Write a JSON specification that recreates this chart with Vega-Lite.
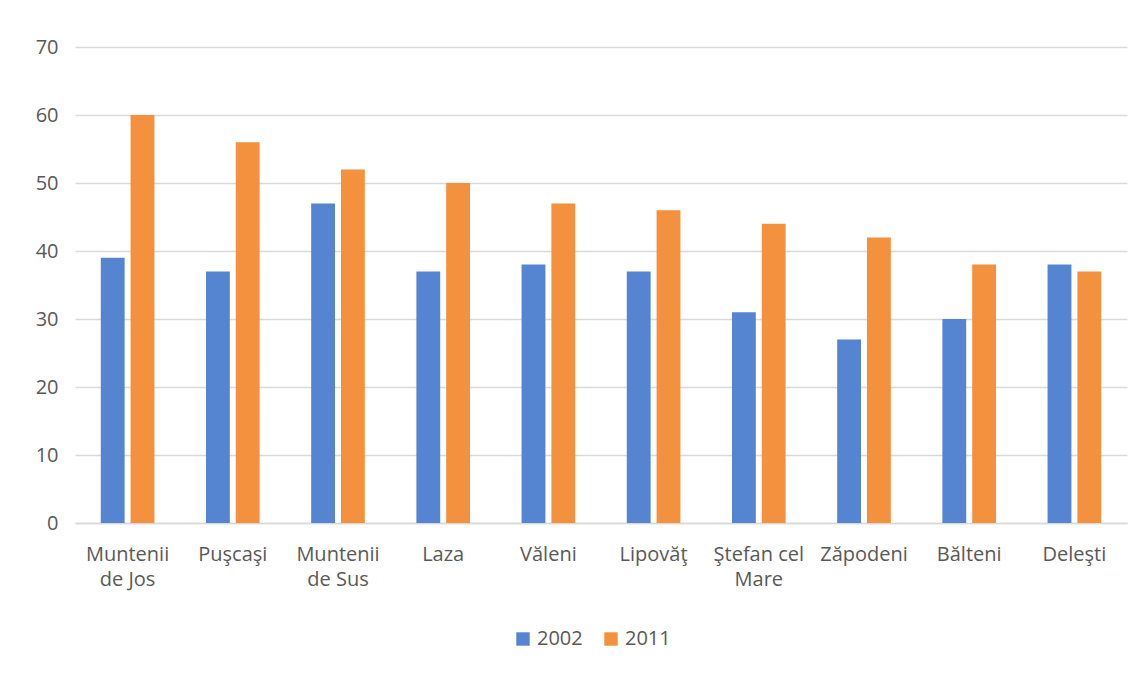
{
  "$schema": "https://vega.github.io/schema/vega-lite/v6.json",
  "width": 1052,
  "height": 476,
  "autosize": {"type": "none"},
  "padding": {"left": 75, "top": 47, "right": 19, "bottom": 153},
  "background": "white",
  "config": {
    "font": "Open Sans",
    "view": {"stroke": null},
    "axis": {"labelColor": "#595959", "labelFont": "Open Sans", "labelFontSize": 20, "titleColor": "#595959"},
    "legend": {"labelColor": "#595959", "labelFont": "Open Sans", "labelFontSize": 20}
  },
  "data": {
    "values": [
      {"sat": "Muntenii|de Jos", "an": "2002", "v": 39},
      {"sat": "Muntenii|de Jos", "an": "2011", "v": 60},
      {"sat": "Puşcaşi", "an": "2002", "v": 37},
      {"sat": "Puşcaşi", "an": "2011", "v": 56},
      {"sat": "Muntenii|de Sus", "an": "2002", "v": 47},
      {"sat": "Muntenii|de Sus", "an": "2011", "v": 52},
      {"sat": "Laza", "an": "2002", "v": 37},
      {"sat": "Laza", "an": "2011", "v": 50},
      {"sat": "Văleni", "an": "2002", "v": 38},
      {"sat": "Văleni", "an": "2011", "v": 47},
      {"sat": "Lipovăţ", "an": "2002", "v": 37},
      {"sat": "Lipovăţ", "an": "2011", "v": 46},
      {"sat": "Ştefan cel|Mare", "an": "2002", "v": 31},
      {"sat": "Ştefan cel|Mare", "an": "2011", "v": 44},
      {"sat": "Zăpodeni", "an": "2002", "v": 27},
      {"sat": "Zăpodeni", "an": "2011", "v": 42},
      {"sat": "Bălteni", "an": "2002", "v": 30},
      {"sat": "Bălteni", "an": "2011", "v": 38},
      {"sat": "Deleşti", "an": "2002", "v": 38},
      {"sat": "Deleşti", "an": "2011", "v": 37}
    ]
  },
  "mark": {"type": "bar"},
  "encoding": {
    "x": {
      "field": "sat",
      "type": "nominal",
      "sort": null,
      "scale": {"paddingInner": 0.49, "paddingOuter": 0.245},
      "axis": {
        "title": null,
        "labelAngle": 0,
        "labelExpr": "split(datum.value, '|')",
        "labelLineHeight": 25,
        "labelPadding": 21,
        "ticks": false,
        "domainColor": "#d9d9d9",
        "domainWidth": 1.5
      }
    },
    "xOffset": {"field": "an", "type": "nominal", "scale": {"paddingInner": 0.2}},
    "y": {
      "field": "v",
      "type": "quantitative",
      "scale": {"domain": [0, 70]},
      "axis": {
        "title": null,
        "values": [0, 10, 20, 30, 40, 50, 60, 70],
        "domain": false,
        "ticks": false,
        "labelPadding": 17,
        "gridColor": "#d9d9d9",
        "gridWidth": 1.5
      }
    },
    "color": {
      "field": "an",
      "type": "nominal",
      "scale": {"domain": ["2002", "2011"], "range": ["#5585d1", "#f4913f"]},
      "legend": {
        "title": null,
        "orient": "none",
        "legendX": 438,
        "legendY": 582,
        "direction": "horizontal",
        "symbolType": "square",
        "symbolSize": 180,
        "symbolStrokeWidth": 0,
        "columnPadding": 18,
        "labelOffset": 4
      }
    }
  }
}
